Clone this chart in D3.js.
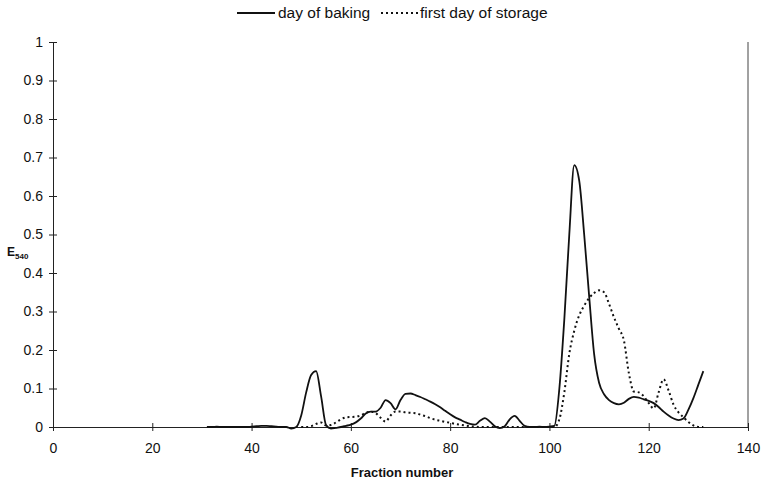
<!DOCTYPE html>
<html>
<head>
<meta charset="utf-8">
<script src="https://cdn.jsdelivr.net/npm/d3@7"></script>
<style>
  body { margin: 0; background: #fff; }
  svg text { font-family: "Liberation Sans", Arial, sans-serif; }
</style>
</head>
<body>
<div id="draw"></div>
<script>
// fraction numbers and absorbance values
var bakingFractions = d3.range(31, 132);
var bakingValues = [
  0, 0, 0.001, 0, 0, 0, 0, 0, 0, 0.001,            // 31-40
  0.002, 0.003, 0.003, 0.002, 0.001, 0, 0, -0.004, 0, 0.03, // 41-50
  0.09, 0.135, 0.145, 0.08, 0.005, -0.004, -0.002, 0, 0.003, 0.006, // 51-60
  0.012, 0.022, 0.035, 0.04, 0.04, 0.05, 0.07, 0.062, 0.046, 0.07, // 61-70
  0.086, 0.087, 0.083, 0.078, 0.072, 0.066, 0.059, 0.051, 0.042, 0.033, // 71-80
  0.025, 0.019, 0.013, 0.008, 0.006, 0.016, 0.023, 0.014, 0.002, -0.003, // 81-90
  0.002, 0.02, 0.029, 0.016, 0.003, 0, 0, 0.001, 0, 0.001, // 91-100
  0.003, 0.1, 0.28, 0.5, 0.68, 0.64, 0.5, 0.34, 0.19, 0.115, // 101-110
  0.085, 0.07, 0.062, 0.059, 0.063, 0.073, 0.078, 0.076, 0.072, 0.068, // 111-120
  0.062, 0.052, 0.04, 0.03, 0.022, 0.018, 0.022, 0.045, 0.075, 0.11, // 121-130
  0.145 // 131
];

var storageFractions = d3.range(50, 132);
var storageValues = [
  0, 0, 0.002, 0.008, 0.012, 0.004, 0.005, 0.012, 0.02, 0.025, 0.026, // 50-60
  0.027, 0.03, 0.037, 0.04, 0.036, 0.024, 0.014, 0.03, 0.04, 0.04, // 61-70
  0.038, 0.037, 0.036, 0.032, 0.028, 0.023, 0.019, 0.016, 0.013, 0.011, // 71-80
  0.008, 0.006, 0.004, 0.002, 0.001, 0, 0, 0, 0, 0, // 81-90
  0, 0, 0, 0, 0, 0, 0, 0, 0, 0, // 91-100
  0, 0.02, 0.09, 0.19, 0.25, 0.29, 0.315, 0.335, 0.348, 0.355, // 101-110
  0.35, 0.32, 0.285, 0.255, 0.225, 0.14, 0.092, 0.09, 0.08, 0.062, // 111-120
  0.048, 0.09, 0.124, 0.095, 0.058, 0.038, 0.025, 0.013, 0.004, 0, // 121-130
  0 // 131
];

var xTicks = [0, 20, 40, 60, 80, 100, 120, 140];
var yTicks = [0, 0.1, 0.2, 0.3, 0.4, 0.5, 0.6, 0.7, 0.8, 0.9, 1];
var seriesNames = ['day of baking', 'first day of storage'];

var width = 761, height = 482;
var svg = d3.select('#draw').append('svg').attr('width', width).attr('height', height);

var x = d3.scaleLinear().domain([0, 140]).range([53, 748]);
var y = d3.scaleLinear().domain([0, 1]).range([427, 42]);

// right border line
svg.append('line')
  .attr('x1', x(140)).attr('x2', x(140))
  .attr('y1', y(1)).attr('y2', y(0))
  .attr('stroke', '#444').attr('stroke-width', 1);

// y axis, ticks crossing the line
var yAxis = svg.append('g').attr('transform', 'translate(' + x(0) + ',0)')
  .call(d3.axisLeft(y).tickValues(yTicks).tickSizeInner(4).tickSizeOuter(0)
    .tickFormat(function(d){ return d3.format('')(+d.toFixed(1)); }));
yAxis.select('.domain').attr('stroke', '#222');
yAxis.selectAll('.tick line').attr('x2', 4).attr('x1', -4).attr('stroke', '#222');
yAxis.selectAll('.tick text').attr('x', -10).attr('font-size', 14).attr('fill', '#111')
  .attr('font-family', '"Liberation Sans", Arial, sans-serif');

// x axis
var xAxis = svg.append('g').attr('transform', 'translate(0,' + y(0) + ')')
  .call(d3.axisBottom(x).tickValues(xTicks).tickSizeInner(4).tickSizeOuter(0));
xAxis.select('.domain').attr('stroke', '#222');
xAxis.selectAll('.tick line').attr('y1', -4).attr('y2', 4).attr('stroke', '#222');
xAxis.selectAll('.tick text').attr('y', 16).attr('font-size', 14).attr('fill', '#111')
  .attr('font-family', '"Liberation Sans", Arial, sans-serif');

var line = d3.line()
  .x(function(d){ return x(d[0]); })
  .y(function(d){ return y(d[1]); })
  .curve(d3.curveMonotoneX);

var baking = d3.zip(bakingFractions, bakingValues);
var storage = d3.zip(storageFractions, storageValues);

svg.append('path').attr('d', line(storage))
  .attr('fill', 'none').attr('stroke', '#111').attr('stroke-width', 2)
  .attr('stroke-dasharray', '2,3');

svg.append('path').attr('d', line(baking))
  .attr('fill', 'none').attr('stroke', '#111').attr('stroke-width', 1.8);

// axis titles
svg.append('text').attr('x', 402).attr('y', 477)
  .attr('text-anchor', 'middle').attr('font-size', 13).attr('font-weight', 'bold')
  .attr('fill', '#111').text('Fraction number');

var yt = svg.append('text').attr('x', 7).attr('y', 256)
  .attr('font-size', 12).attr('font-weight', 'bold').attr('fill', '#111');
yt.append('tspan').text('E');
yt.append('tspan').attr('font-size', 8).attr('dy', 3).text('540');

// legend
var legend = svg.append('g');
legend.append('line').attr('x1', 237).attr('x2', 275).attr('y1', 13).attr('y2', 13)
  .attr('stroke', '#111').attr('stroke-width', 1.8);
legend.append('text').attr('x', 278).attr('y', 18).attr('font-size', 15.5)
  .attr('fill', '#111').text(seriesNames[0]);
legend.append('line').attr('x1', 381).attr('x2', 418).attr('y1', 13).attr('y2', 13)
  .attr('stroke', '#111').attr('stroke-width', 2).attr('stroke-dasharray', '2,3');
legend.append('text').attr('x', 420).attr('y', 18).attr('font-size', 15.5)
  .attr('fill', '#111').text(seriesNames[1]);
</script>
</body>
</html>
